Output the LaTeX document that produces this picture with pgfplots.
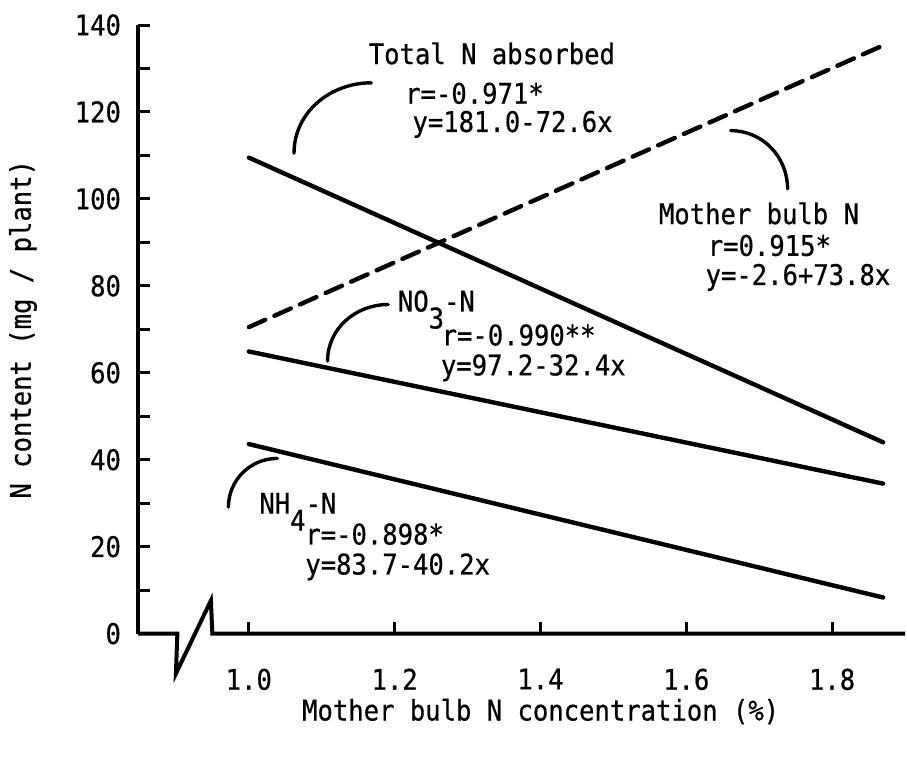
\documentclass[border=0pt]{standalone}
\usepackage{fontspec}
\setmainfont{DejaVu Sans Mono}[FakeStretch=0.9, FakeBold=0.6]
\usepackage{pgfplots}
\pgfplotsset{compat=1.18}
\newcommand{\lbl}{\fontsize{14.2}{16}\selectfont}
\tikzset{
  fit/.style  = {black, line width=2.2pt, line cap=round},
  lead/.style = {black, line width=1.7pt, line cap=round},
  ann/.style  = {anchor=base west, inner sep=0pt, font=\lbl}
}
\begin{document}
\begin{tikzpicture}[font=\lbl]
\useasboundingbox (-69pt,-61.7pt) rectangle (384.5pt,316.8pt);
\begin{axis}[
  at={(0,0)}, anchor=south west,
  scale only axis, width=383.5pt, height=304.3pt,
  xmin=0.848, xmax=1.90, ymin=0, ymax=140,
  axis lines*=left,
  axis line style={-, line width=2pt},
  x axis line style={draw=none},
  clip=false,
  tick align=inside,
  xtick={1.0,1.2,1.4,1.6,1.8},
  ytick={0,20,...,140},
  minor ytick={10,30,...,130},
  major tick length=6pt, minor tick length=6pt,
  tick style={black, line width=1.5pt},
  /pgf/number format/assume math mode=true,
  ticklabel style={font=\lbl},
  xticklabel style={/pgf/number format/.cd, fixed, fixed zerofill, precision=1, /tikz/.cd, yshift=-14pt},
  yticklabel style={xshift=-5pt},
  xlabel={Mother bulb N concentration (\%)},
  ylabel={N content (mg / plant)},
  xlabel style={at={(axis description cs:0.525,-0.128)}, anchor=center, font=\lbl},
  ylabel style={at={(axis description cs:-0.15,0.5)}, anchor=center, font=\lbl},
]
% fitted regression lines
\addplot[fit, no markers] coordinates {(1.0,109.5) (1.87,44.0)};           % Total N absorbed
\addplot[fit, no markers, dash pattern=on 9pt off 5pt] coordinates {(1.0,70.5) (1.87,135.3)}; % Mother bulb N
\addplot[fit, no markers] coordinates {(1.0,64.9) (1.87,34.5)};            % NO3-N
\addplot[fit, no markers] coordinates {(1.0,43.6) (1.87,8.3)};             % NH4-N

% broken x axis
\draw[line width=2pt, line join=miter] (axis cs:0.848,0) -- (axis cs:0.902,0) -- (axis cs:0.900,-9.2)
  -- (axis cs:0.948,7.6) -- (axis cs:0.950,0) -- (axis cs:1.90,0);

% annotations
\node[ann] at (axis cs:1.164,131.0) {Total N absorbed};
\node[ann] at (axis cs:1.214,121.9) {r=-0.971*};
\node[ann] at (axis cs:1.224,115.4) {y=181.0-72.6x};
\draw[lead] (axis cs:1.168,126.7) to[out=180,in=90] (axis cs:1.062,110.5);

\node[ann] at (axis cs:1.562,94.2) {Mother bulb N};
\node[ann] at (axis cs:1.629,86.9) {r=0.915*};
\node[ann] at (axis cs:1.626,80.2) {y=-2.6+73.8x};
\draw[lead] (axis cs:1.661,115.7) to[out=0,in=90] (axis cs:1.739,102.3);

\node[ann] at (axis cs:1.204,74.1) {NO\raisebox{-8.5pt}{3}-N};
\node[ann] at (axis cs:1.264,66.3) {r=-0.990**};
\node[ann] at (axis cs:1.263,59.4) {y=97.2-32.4x};
\draw[lead] (axis cs:1.191,75.7) to[out=180,in=90] (axis cs:1.108,62.7);

\node[ann] at (axis cs:1.014,27.6) {NH\raisebox{-8.5pt}{4}-N};
\node[ann] at (axis cs:1.077,20.5) {r=-0.898*};
\node[ann] at (axis cs:1.077,13.6) {y=83.7-40.2x};
\draw[lead] (axis cs:1.039,40.3) to[out=180,in=90] (axis cs:0.972,29.1);
\end{axis}
\end{tikzpicture}
\end{document}
